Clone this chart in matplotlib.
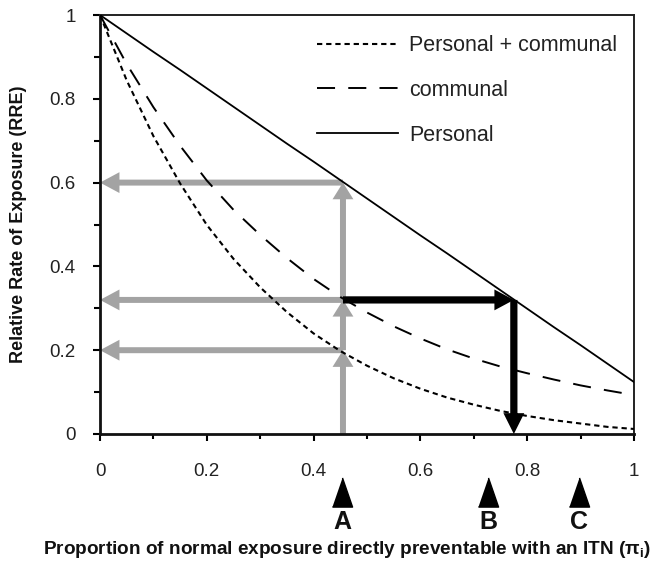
import matplotlib
matplotlib.use('Agg')
import matplotlib.pyplot as plt
import matplotlib.transforms as mtransforms
from matplotlib.patches import FancyArrowPatch

plt.rcParams['font.family'] = ['Liberation Sans', 'DejaVu Sans']
plt.rcParams['mathtext.fontset'] = 'custom'
plt.rcParams['mathtext.rm'] = 'Liberation Sans'
plt.rcParams['mathtext.bf'] = 'Liberation Sans:bold'
plt.rcParams['mathtext.it'] = 'Liberation Sans:italic'
plt.rcParams['lines.scale_dashes'] = False

# ---------------- data ----------------
pi = [0.0, 0.05, 0.1, 0.15, 0.2, 0.25, 0.3, 0.35, 0.4, 0.45, 0.5,
      0.55, 0.6, 0.65, 0.7, 0.75, 0.8, 0.85, 0.9, 0.95, 1.0]
personal = [1.000, 0.956, 0.912, 0.869, 0.825, 0.781, 0.737, 0.693, 0.650, 0.606, 0.562,
            0.518, 0.474, 0.431, 0.387, 0.343, 0.299, 0.255, 0.212, 0.168, 0.124]
communal = [1.000, 0.883, 0.780, 0.688, 0.605, 0.535, 0.475, 0.420, 0.370, 0.327, 0.290,
            0.257, 0.228, 0.202, 0.180, 0.161, 0.145, 0.130, 0.116, 0.104, 0.093]
personal_communal = [1.000, 0.844, 0.711, 0.598, 0.499, 0.418, 0.350, 0.291, 0.240, 0.198, 0.163,
                     0.133, 0.108, 0.087, 0.070, 0.055, 0.043, 0.033, 0.025, 0.017, 0.012]
series_labels = ['Personal + communal', 'communal', 'Personal']

x_ticks = [0, 0.2, 0.4, 0.6, 0.8, 1]
x_tick_labels = ['0', '0.2', '0.4', '0.6', '0.8', '1']
y_ticks = [0, 0.2, 0.4, 0.6, 0.8, 1]
y_tick_labels = ['0', '0.2', '0.4', '0.6', '0.8', '1']

pi_A = 0.455                   # coverage at point A
rre_levels = [0.2, 0.32, 0.6]  # RRE read at A for the three curves
pi_equiv = 0.775               # personal-only coverage giving the communal RRE at A

markers_pi = [0.453, 0.727, 0.897]
markers_lbl = ['A', 'B', 'C']

# ---------------- figure ----------------
fig = plt.figure(figsize=(6.52, 5.70), dpi=100)
ax = fig.add_axes([100/652, 1-434/570, 534/652, 419/570])

ax.plot(pi, personal_communal, color='black', lw=1.5, dashes=(3.8, 2.8), label=series_labels[0], zorder=3)
ax.plot(pi, communal, color='black', lw=1.4, dashes=(13, 9.5), label=series_labels[1], zorder=3)
ax.plot(pi, personal, color='black', lw=1.3, label=series_labels[2], zorder=3)

ax.set_xlim(0, 1)
ax.set_ylim(0, 1)


def arrow(p0, p1, color, tail, hw, hl, z):
    ax.add_patch(FancyArrowPatch(p0, p1,
                 arrowstyle=f'simple,head_length={hl},head_width={hw},tail_width={tail}',
                 mutation_scale=1, color=color, shrinkA=0, shrinkB=0, lw=0,
                 clip_on=False, zorder=z))


gray = '#a3a3a3'
# vertical gray arrows at A
prev = 0.0
for lv in rre_levels:
    arrow((pi_A, prev), (pi_A, lv), gray, 4.3, 15, 12, 2)
    prev = lv
# horizontal gray arrows to the y-axis
for lv in rre_levels:
    arrow((pi_A, lv), (0, lv), gray, 4.3, 15, 14, 2)

# black arrows
arrow((pi_A, rre_levels[1]), (pi_equiv, rre_levels[1]), 'black', 5.2, 15, 14, 4)
arrow((pi_equiv, rre_levels[1]), (pi_equiv, 0), 'black', 5.2, 15, 15, 4)

# ticks
ax.set_xticks(x_ticks)
ax.set_xticklabels(x_tick_labels)
ax.set_yticks(y_ticks)
ax.set_yticklabels(y_tick_labels)
ax.set_xticks([0.1, 0.3, 0.5, 0.7, 0.9], minor=True)
ax.set_yticks([0.1, 0.3, 0.5, 0.7, 0.9], minor=True)
ax.tick_params(axis='x', which='major', direction='out', length=5, width=1.5, pad=16,
               labelsize=13.5, colors='black')
ax.tick_params(axis='x', which='minor', direction='out', length=3.5, width=1.5)
ax.tick_params(axis='y', which='major', direction='out', length=5, width=1.5, pad=12.5,
               labelsize=13.5)
ax.tick_params(axis='y', which='minor', direction='out', length=4.5, width=1.5)
for lab in ax.get_xticklabels() + ax.get_yticklabels():
    lab.set_color('#222222')

for s in ['left', 'bottom']:
    ax.spines[s].set_linewidth(2.0)
    ax.spines[s].set_color('#111111')
for s in ['top', 'right']:
    ax.spines[s].set_linewidth(1.4)
    ax.spines[s].set_color('#222222')

leg = ax.legend(loc='upper right', bbox_to_anchor=(0.968, 0.952), frameon=False,
                fontsize=15.5, handlelength=3.75, handletextpad=0.5, labelspacing=1.11,
                borderpad=0, borderaxespad=0)
for t in leg.get_texts():
    t.set_color('#222222')

# A, B, C markers below the axis
trans = mtransforms.blended_transform_factory(ax.transData, ax.transAxes)
tri = [(-0.69, -1), (0.69, -1), (0, 1)]
ax.plot(markers_pi, [-0.1396] * len(markers_pi), linestyle='none', marker=tri,
        markersize=21, color='black', transform=trans, clip_on=False)
for xp, lb in zip(markers_pi, markers_lbl):
    ax.text(xp, -0.2112, lb, transform=trans, ha='center', va='center',
            fontsize=18, fontweight='bold', color='#111111')

fig.text(19/652, 1-224.5/570, 'Relative Rate of Exposure (RRE)', rotation=90,
         ha='center', va='center', fontsize=13, fontweight='bold', color='#111111')
fig.text(346.5/652, 1-549/570,
         r'Proportion of normal exposure directly preventable with an ITN (π$_\mathbf{i}$)',
         ha='center', va='center', fontsize=13.7, fontweight='bold', color='#111111')

fig.savefig('out.png', dpi=100)
